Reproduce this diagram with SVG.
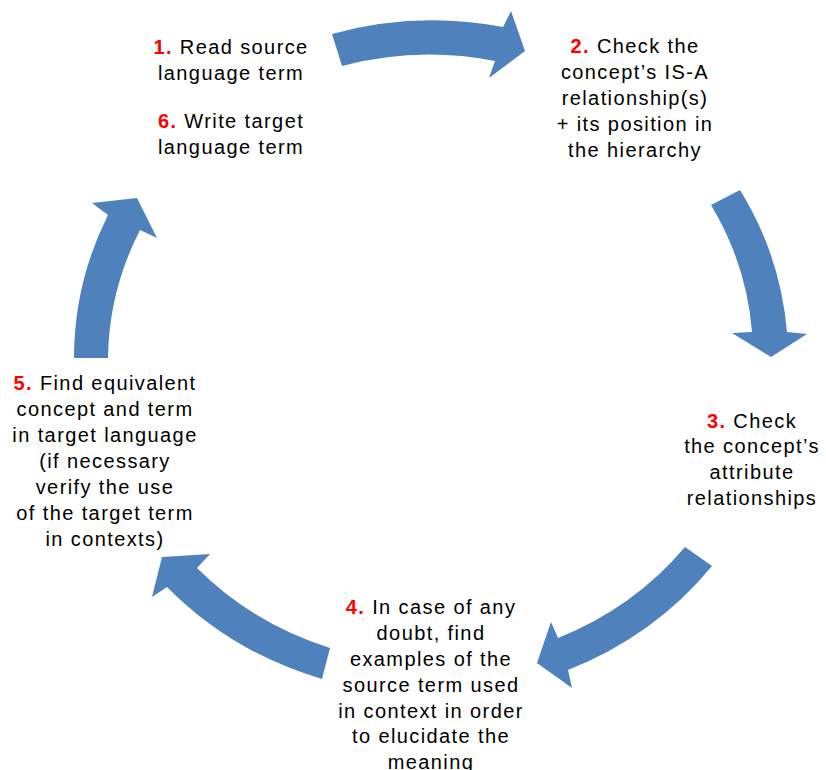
<svg xmlns="http://www.w3.org/2000/svg" width="826" height="770" viewBox="0 0 826 770">
<style>
.arrow{fill:#4F81BD;stroke:none}
.t{font-family:"Liberation Sans",Arial,sans-serif;font-size:20px;letter-spacing:1.4px;fill:#000;text-anchor:middle}
.n{fill:#FF0000;font-weight:bold}
</style>
<rect width="826" height="770" fill="#fff"/>
<g id="connectors">
<path class="arrow" d="M332,34 A357,336 0 0 1 503,27 L511,11 L525,51 L489,78 L495,61 A324,304 0 0 0 342,66 Z"/>
<path class="arrow" d="M740,190 A357,336 0 0 1 787,332 L807,334 L771,357 L732,333 L752,332 A324,304 0 0 0 711,205 Z"/>
<path class="arrow" d="M712,566 A357,336 0 0 1 568,670 L572,688 L537,663 L551,622 L558,638 A324,304 0 0 0 685,547 Z"/>
<path class="arrow" d="M322,679 A357,336 0 0 1 167,587 L152,597 L162,557 L210,554 L197,568 A324,304 0 0 0 330,648 Z"/>
<path class="arrow" d="M74,358 A357,336 0 0 1 108,215 L92,203 L137,198 L157,238 L140,230 A324,304 0 0 0 108,358 Z"/>
</g>
<g id="node1">
<text class="t" x="231" y="54"><tspan class="n">1.</tspan> Read source</text>
<text class="t" x="231" y="80">language term</text>
</g>
<g id="node6">
<text class="t" x="231" y="128"><tspan class="n">6.</tspan> Write target</text>
<text class="t" x="231" y="154">language term</text>
</g>
<g id="node2">
<text class="t" x="635" y="53"><tspan class="n">2.</tspan> Check the</text>
<text class="t" x="635" y="79">concept’s IS-A</text>
<text class="t" x="635" y="105">relationship(s)</text>
<text class="t" x="635" y="131">+ its position in</text>
<text class="t" x="635" y="157">the hierarchy</text>
</g>
<g id="node3">
<text class="t" x="752" y="428"><tspan class="n">3.</tspan> Check</text>
<text class="t" x="752" y="453">the concept’s</text>
<text class="t" x="752" y="479">attribute</text>
<text class="t" x="752" y="505">relationships</text>
</g>
<g id="node4">
<text class="t" x="431" y="614"><tspan class="n">4.</tspan> In case of any</text>
<text class="t" x="431" y="640">doubt, find</text>
<text class="t" x="431" y="666">examples of the</text>
<text class="t" x="431" y="692">source term used</text>
<text class="t" x="431" y="718">in context in order</text>
<text class="t" x="431" y="743">to elucidate the</text>
<text class="t" x="431" y="769">meaning</text>
</g>
<g id="node5">
<text class="t" x="105" y="390"><tspan class="n">5.</tspan> Find equivalent</text>
<text class="t" x="105" y="416">concept and term</text>
<text class="t" x="105" y="442">in target language</text>
<text class="t" x="105" y="468">(if necessary</text>
<text class="t" x="105" y="494">verify the use</text>
<text class="t" x="105" y="520">of the target term</text>
<text class="t" x="105" y="546">in contexts)</text>
</g>
</svg>
